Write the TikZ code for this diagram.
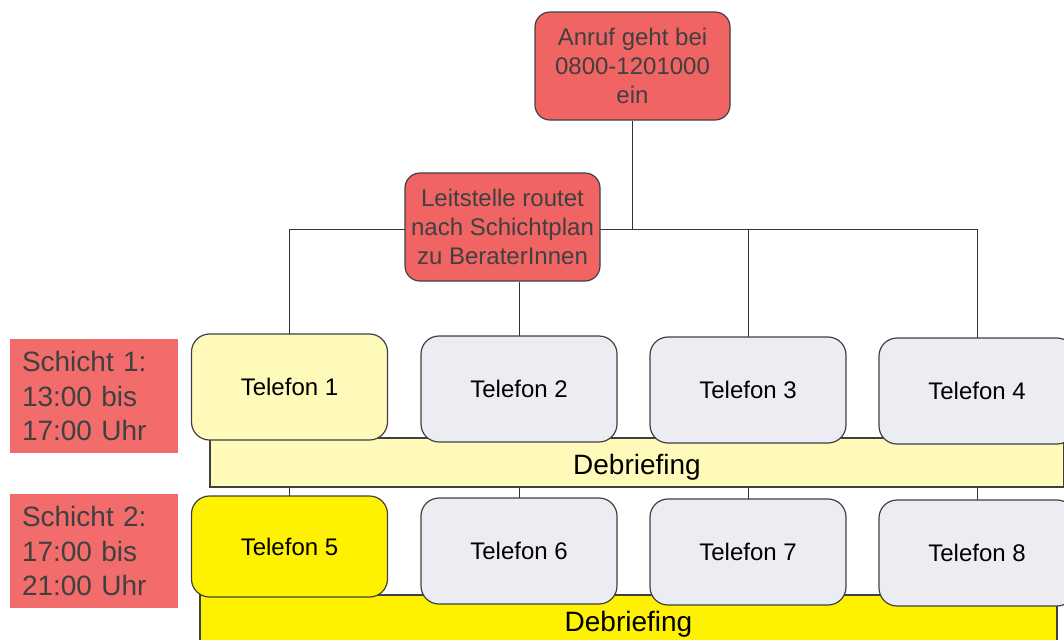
\documentclass[tikz,border=0pt]{standalone}
\usepackage{fontspec}
\setmainfont{Liberation Sans}
\usetikzlibrary{backgrounds}
\definecolor{callred}{RGB}{240,100,100}
\definecolor{shiftred}{RGB}{242,108,108}
\definecolor{paleyellow}{RGB}{255,250,186}
\definecolor{brightyellow}{RGB}{255,242,0}
\definecolor{phonegray}{RGB}{236,237,243}

\begin{document}
\begin{tikzpicture}[x=0.5pt, y=-0.5pt,
  redbox/.style={draw=black!75, fill=callred, rounded corners=7.5pt, line width=0.6pt,
    minimum width=97.5pt, minimum height=54pt, inner sep=2pt, align=center,
    text=black!75, font=\fontsize{12}{14.5}\selectfont},
  shiftbox/.style={fill=shiftred, text width=72pt, minimum height=57pt, inner sep=6pt,
    align=left, text=black!75, font=\fontsize{14}{17.25}\selectfont},
  phone/.style={draw=black!75, rounded corners=9pt, line width=0.6pt,
    minimum width=98pt, minimum height=53pt, font=\fontsize{12}{14}\selectfont},
  debrief/.style={draw=black!75, line width=0.6pt, minimum height=24.5pt, inner sep=0pt,
    text height=15pt, text depth=3pt, font=\fontsize{14}{16}\selectfont},
  wire/.style={draw=black!80, line width=0.5pt}]
  \useasboundingbox (0,0) rectangle (1064,639);

  % top of the chain
  \node[redbox] (anruf) at (632.5,66) {Anruf geht bei\\0800-1201000\\ein};
  \node[redbox] (leit) at (502.5,227) {Leitstelle routet\\nach Schichtplan\\zu BeraterInnen};

  % shift labels
  \node[shiftbox] (schicht1) at (94,396) {Schicht 1:\\13:00 bis\\17:00 Uhr};
  \node[shiftbox] (schicht2) at (94,551) {Schicht 2:\\17:00 bis\\21:00 Uhr};

  % debriefing bars
  \node[debrief, fill=paleyellow, minimum width=427pt] (debrief1) at (637,462.5) {Debriefing};
  \node[debrief, fill=brightyellow, minimum width=428.5pt] (debrief2) at (628.5,619.5) {Debriefing};

  % phones, shift 1
  \node[phone, fill=paleyellow] (t1) at (289.5,387) {Telefon 1};
  \node[phone, fill=phonegray] (t2) at (519,389) {Telefon 2};
  \node[phone, fill=phonegray] (t3) at (748,390) {Telefon 3};
  \node[phone, fill=phonegray] (t4) at (977,391) {Telefon 4};
  % phones, shift 2
  \node[phone, fill=brightyellow, minimum height=50.5pt] (t5) at (289.5,546.5) {Telefon 5};
  \node[phone, fill=phonegray] (t6) at (519,551) {Telefon 6};
  \node[phone, fill=phonegray] (t7) at (748,552) {Telefon 7};
  \node[phone, fill=phonegray] (t8) at (977,553) {Telefon 8};

  \begin{scope}[on background layer]
    \coordinate (bus) at (0,229);
    \draw[wire] (anruf.south) -- (anruf.south |- bus);
    \draw[wire] (t1.center |- bus) -- (t4.center |- bus);
    \foreach \up/\down in {t1/t5, t3/t7, t4/t8}
      \draw[wire] (\up.center |- bus) -- (\down.center);
    \draw[wire] (t2.center |- leit.south) -- (t6.center);
  \end{scope}
\end{tikzpicture}
\end{document}
